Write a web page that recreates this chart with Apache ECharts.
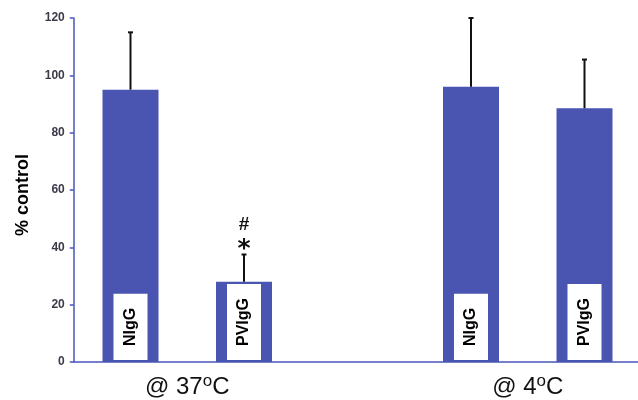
<!DOCTYPE html>
<html>
<head>
<meta charset="utf-8">
<script src="https://cdn.jsdelivr.net/npm/echarts@6/dist/echarts.min.js"></script>
<style>
html,body{margin:0;padding:0;background:#fff;}
#chart{width:638px;height:400px;}
</style>
</head>
<body>
<div id="chart"></div>
<script>
// ---- data ----
var categories = ['NIgG', 'PVIgG', '', 'NIgG', 'PVIgG'];
var values = [95, 28, null, 96, 88.5];
var errors = [20, 9.5, null, 24, 17];
var marks = ['', '#\n*', '', '', ''];
var groupTemps = ['', '37', '', '', '4', ''];
var yTicks = { min: 0, max: 120, interval: 20 };

var blue = '#4A55B1';
var axisBlue = '#4A55B8';
var font = 'Liberation Sans, Arial, sans-serif';

var chart = echarts.init(document.getElementById('chart'));
chart.setOption({
  animation: false,
  backgroundColor: '#fff',
  grid: { left: 73.75, top: 18, width: 567.5, height: 344, containLabel: false, outerBoundsMode: 'none' },
  xAxis: [
    {
      type: 'category',
      data: categories,
      axisLine: { lineStyle: { color: axisBlue, width: 1.5 } },
      axisTick: { show: false },
      axisLabel: { show: false }
    },
    {
      type: 'category',
      data: groupTemps,
      boundaryGap: false,
      position: 'bottom',
      axisLine: { show: false },
      axisTick: { show: false },
      axisLabel: {
        interval: 0,
        margin: 11,
        color: '#111',
        fontFamily: font,
        fontSize: 24,
        lineHeight: 28,
        formatter: function (v) { return v ? '@ ' + v + '{sup|o}C' : ''; },
        rich: {
          sup: { fontSize: 17, fontFamily: font, color: '#111', verticalAlign: 'top', lineHeight: 17, padding: [0, 0, 6, 0] }
        }
      }
    }
  ],
  yAxis: {
    type: 'value',
    min: yTicks.min,
    max: yTicks.max,
    interval: yTicks.interval,
    name: '% control',
    nameLocation: 'middle',
    nameGap: 42,
    nameTextStyle: { fontFamily: font, fontSize: 18, fontWeight: 'bold', color: '#000', padding: [0, 10, 0, 0] },
    axisLine: { show: true, lineStyle: { color: axisBlue, width: 1.5 } },
    axisTick: { show: true, length: 4, lineStyle: { color: axisBlue, width: 1.5 } },
    splitLine: { show: false },
    axisLabel: { margin: 9, fontFamily: font, fontSize: 12, fontWeight: 'bold', color: '#3a3a48' }
  },
  series: [
    {
      type: 'bar',
      data: values,
      barWidth: 56,
      itemStyle: { color: blue },
      label: {
        show: true,
        position: 'insideBottom',
        distance: 2,
        rotate: 90,
        align: 'left',
        verticalAlign: 'middle',
        formatter: function (p) { return p.name; },
        fontFamily: font,
        fontSize: 16,
        fontWeight: 'bold',
        color: '#000',
        backgroundColor: '#fff',
        lineHeight: 16,
        padding: [9, 14, 9, 14]
      }
    },
    {
      type: 'custom',
      data: values.map(function (v, i) { return [i, v, errors[i]]; }),
      encode: { x: 0, y: 1 },
      z: 5,
      renderItem: function (params, api) {
        var i = api.value(0), v = api.value(1), e = api.value(2);
        if (v == null || isNaN(v)) return;
        var p0 = api.coord([i, v]);
        var p1 = api.coord([i, v + e]);
        var children = [
          { type: 'line', shape: { x1: p0[0], y1: p0[1], x2: p1[0], y2: p1[1] }, style: { stroke: '#111', lineWidth: 2 } },
          { type: 'line', shape: { x1: p1[0] - 2.5, y1: p1[1], x2: p1[0] + 2.5, y2: p1[1] }, style: { stroke: '#111', lineWidth: 2 } }
        ];
        if (marks[i]) {
          var lines = marks[i].split('\n');
          // upper line: '#', lower line: '*'
          children.push({
            type: 'text',
            style: {
              text: lines[0], x: p1[0], y: p1[1] - 30,
              align: 'center', verticalAlign: 'middle',
              font: 'bold 19px ' + font, fill: '#111'
            }
          });
          children.push({
            type: 'text',
            style: {
              text: lines[1], x: p1[0], y: p1[1] - 5,
              align: 'center', verticalAlign: 'middle',
              font: 'bold 25px DejaVu Sans, sans-serif', fill: '#111'
            }
          });
        }
        return { type: 'group', children: children };
      }
    }
  ]
});
</script>
</body>
</html>
